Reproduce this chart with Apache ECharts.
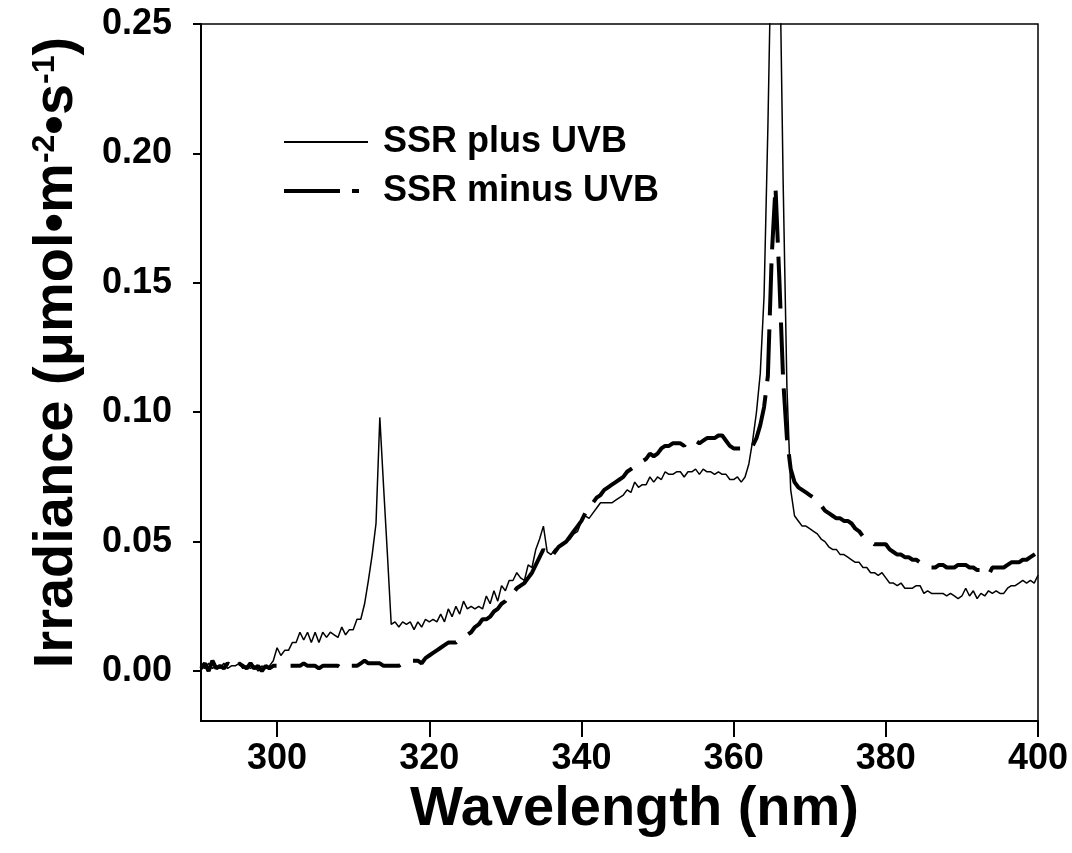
<!DOCTYPE html>
<html>
<head>
<meta charset="utf-8">
<script src="https://cdn.jsdelivr.net/npm/echarts@6/dist/echarts.min.js"></script>
<style>
  html, body { margin: 0; padding: 0; background: #fff; }
  #chart { width: 1072px; height: 853px; }
</style>
</head>
<body>
<div id="chart"></div>
<script>
// wavelength grid (nm), 0.5 nm steps, one row = 5 nm
var wavelengths = [
  290, 290.5, 291, 291.5, 292, 292.5, 293, 293.5, 294, 294.5,
  295, 295.5, 296, 296.5, 297, 297.5, 298, 298.5, 299, 299.5,
  300, 300.5, 301, 301.5, 302, 302.5, 303, 303.5, 304, 304.5,
  305, 305.5, 306, 306.5, 307, 307.5, 308, 308.5, 309, 309.5,
  310, 310.5, 311, 311.5, 312, 312.5, 313, 313.5, 314, 314.5,
  315, 315.5, 316, 316.5, 317, 317.5, 318, 318.5, 319, 319.5,
  320, 320.5, 321, 321.5, 322, 322.5, 323, 323.5, 324, 324.5,
  325, 325.5, 326, 326.5, 327, 327.5, 328, 328.5, 329, 329.5,
  330, 330.5, 331, 331.5, 332, 332.5, 333, 333.5, 334, 334.5,
  335, 335.5, 336, 336.5, 337, 337.5, 338, 338.5, 339, 339.5,
  340, 340.5, 341, 341.5, 342, 342.5, 343, 343.5, 344, 344.5,
  345, 345.5, 346, 346.5, 347, 347.5, 348, 348.5, 349, 349.5,
  350, 350.5, 351, 351.5, 352, 352.5, 353, 353.5, 354, 354.5,
  355, 355.5, 356, 356.5, 357, 357.5, 358, 358.5, 359, 359.5,
  360, 360.5, 361, 361.5, 362, 362.5, 363, 363.5, 364, 364.5,
  365, 365.5, 366, 366.5, 367, 367.5, 368, 368.5, 369, 369.5,
  370, 370.5, 371, 371.5, 372, 372.5, 373, 373.5, 374, 374.5,
  375, 375.5, 376, 376.5, 377, 377.5, 378, 378.5, 379, 379.5,
  380, 380.5, 381, 381.5, 382, 382.5, 383, 383.5, 384, 384.5,
  385, 385.5, 386, 386.5, 387, 387.5, 388, 388.5, 389, 389.5,
  390, 390.5, 391, 391.5, 392, 392.5, 393, 393.5, 394, 394.5,
  395, 395.5, 396, 396.5, 397, 397.5, 398, 398.5, 399, 399.5,
  400
];

// SSR plus UVB (thin solid line)
var plusUVB = [
  0.002, 0.001, 0.003, 0.001, 0.002, 0.001, 0.003, 0.001, 0.002, 0.002,
  0.003, 0.001, 0.002, 0.001, 0.002, 0.000, 0.002, 0.001, 0.002, 0.004,
  0.009, 0.006, 0.008, 0.008, 0.011, 0.011, 0.015, 0.012, 0.015, 0.011,
  0.015, 0.011, 0.015, 0.013, 0.015, 0.014, 0.013, 0.017, 0.014, 0.016,
  0.016, 0.020, 0.020, 0.026, 0.035, 0.045, 0.057, 0.098, 0.071, 0.045,
  0.018, 0.019, 0.017, 0.019, 0.018, 0.019, 0.016, 0.019, 0.017, 0.020,
  0.019, 0.020, 0.019, 0.022, 0.019, 0.024, 0.021, 0.025, 0.022, 0.027,
  0.024, 0.025, 0.024, 0.025, 0.024, 0.029, 0.026, 0.031, 0.027, 0.033,
  0.031, 0.035, 0.035, 0.038, 0.036, 0.035, 0.041, 0.040, 0.047, 0.051,
  0.056, 0.046, 0.045, 0.047, 0.048, 0.049, 0.050, 0.051, 0.053, 0.054,
  0.058, 0.060, 0.059, 0.061, 0.063, 0.065, 0.065, 0.065, 0.065, 0.066,
  0.067, 0.068, 0.070, 0.069, 0.073, 0.071, 0.072, 0.072, 0.075, 0.073,
  0.075, 0.074, 0.077, 0.076, 0.076, 0.077, 0.077, 0.075, 0.077, 0.077,
  0.078, 0.076, 0.078, 0.077, 0.077, 0.076, 0.077, 0.076, 0.076, 0.074,
  0.074, 0.075, 0.073, 0.075, 0.080, 0.089, 0.100, 0.115, 0.145, 0.210,
  0.290, 0.330, 0.290, 0.190, 0.110, 0.070, 0.060, 0.058, 0.056, 0.056,
  0.055, 0.054, 0.053, 0.051, 0.050, 0.048, 0.047, 0.047, 0.045, 0.045,
  0.044, 0.043, 0.042, 0.042, 0.040, 0.040, 0.038, 0.038, 0.037, 0.038,
  0.036, 0.034, 0.034, 0.033, 0.034, 0.032, 0.032, 0.032, 0.033, 0.033,
  0.030, 0.031, 0.030, 0.030, 0.030, 0.030, 0.029, 0.030, 0.029, 0.028,
  0.029, 0.032, 0.029, 0.031, 0.028, 0.030, 0.029, 0.031, 0.030, 0.031,
  0.030, 0.030, 0.032, 0.033, 0.033, 0.034, 0.035, 0.034, 0.035, 0.034,
  0.037
];

// SSR minus UVB (thick dashed line)
var minusUVB = [
  0.001, 0.003, 0.000, 0.004, 0.001, 0.002, 0.001, 0.003, 0.002, 0.001,
  0.003, 0.002, 0.001, 0.003, 0.001, 0.002, 0.000, 0.002, 0.001, 0.002,
  0.002, 0.002, 0.002, 0.002, 0.002, 0.002, 0.002, 0.003, 0.002, 0.002,
  0.002, 0.001, 0.002, 0.002, 0.002, 0.002, 0.002, 0.001, 0.001, 0.002,
  0.002, 0.002, 0.003, 0.004, 0.003, 0.003, 0.003, 0.003, 0.002, 0.002,
  0.002, 0.002, 0.002, 0.003, 0.003, 0.004, 0.004, 0.004, 0.003, 0.005,
  0.006, 0.007, 0.008, 0.009, 0.010, 0.011, 0.011, 0.011, 0.012, 0.013,
  0.014, 0.015, 0.017, 0.018, 0.020, 0.020, 0.021, 0.023, 0.024, 0.026,
  0.027, 0.029, 0.030, 0.032, 0.033, 0.034, 0.036, 0.038, 0.041, 0.044,
  0.047, 0.045, 0.044, 0.046, 0.048, 0.049, 0.050, 0.052, 0.054, 0.056,
  0.058, 0.061, 0.063, 0.065, 0.067, 0.068, 0.070, 0.071, 0.072, 0.073,
  0.074, 0.075, 0.077, 0.078, 0.079, 0.080, 0.081, 0.082, 0.084, 0.083,
  0.084, 0.086, 0.087, 0.087, 0.088, 0.088, 0.088, 0.087, 0.089, 0.089,
  0.089, 0.088, 0.089, 0.090, 0.090, 0.090, 0.091, 0.091, 0.089, 0.087,
  0.086, 0.086, 0.086, 0.086, 0.086, 0.087, 0.090, 0.095, 0.102, 0.114,
  0.160, 0.187, 0.152, 0.113, 0.090, 0.078, 0.073, 0.071, 0.070, 0.069,
  0.068, 0.067, 0.066, 0.064, 0.062, 0.061, 0.060, 0.059, 0.059, 0.058,
  0.058, 0.057, 0.055, 0.054, 0.052, 0.051, 0.050, 0.049, 0.049, 0.049,
  0.049, 0.047, 0.046, 0.045, 0.045, 0.044, 0.044, 0.043, 0.043, 0.042,
  0.042, 0.041, 0.040, 0.040, 0.041, 0.041, 0.040, 0.040, 0.040, 0.041,
  0.041, 0.041, 0.040, 0.040, 0.039, 0.039, 0.038, 0.037, 0.040, 0.040,
  0.040, 0.040, 0.041, 0.042, 0.042, 0.042, 0.043, 0.043, 0.044, 0.045,
  0.046
];

var xTicks = [300, 320, 340, 360, 380, 400];
var yTicks = [0, 0.05, 0.10, 0.15, 0.20, 0.25];
var seriesNames = ['SSR plus UVB', 'SSR minus UVB'];

function pairs(values) {
    return wavelengths.map(function(w, i) { return [w, values[i]]; });
}

var font = '"Liberation Sans", Arial, Helvetica, sans-serif';
var myChart = echarts.init(document.getElementById('chart'));

var option = {
    animation: false,
    backgroundColor: '#fff',
    grid: {
        left: 201, right: 34, top: 24, bottom: 132,
        show: true, borderColor: '#000', borderWidth: 1.5
    },
    legend: {
        orient: 'vertical',
        left: 277, top: 119,
        itemWidth: 84, itemHeight: 14, itemGap: 13,
        itemStyle: { opacity: 0 },
        data: [
            { name: seriesNames[0] },
            { name: seriesNames[1], lineStyle: { type: [56, 12, 7, 20], width: 4 } }
        ],
        formatter: function(name) { return '{g|}{t|' + name + '}'; },
        textStyle: {
            rich: {
                g: { width: 10 },
                t: { fontFamily: font, fontWeight: 'bold', fontSize: 36, color: '#000', lineHeight: 40 }
            }
        }
    },
    xAxis: {
        type: 'value',
        min: 290, max: 400,
        name: 'Wavelength (nm)',
        nameLocation: 'middle',
        nameGap: 52,
        nameTextStyle: { fontFamily: font, fontWeight: 'bold', fontSize: 56, color: '#000', padding: [0, 0, 0, 30] },
        axisLine: { onZero: false, lineStyle: { color: '#000', width: 2 } },
        axisTick: { show: true, inside: false, length: 16, customValues: xTicks, lineStyle: { color: '#000', width: 2 } },
        axisLabel: { customValues: xTicks, margin: 20, fontFamily: font, fontWeight: 'bold', fontSize: 36, color: '#000' },
        splitLine: { show: false }
    },
    yAxis: {
        type: 'value',
        min: -0.0193, max: 0.25,
        name: 'Irradiance (μmol•m{sup|-2}•s{sup|-1})',
        nameLocation: 'middle',
        nameRotate: 90,
        nameGap: 116,
        nameTextStyle: {
            fontFamily: font, fontWeight: 'bold', fontSize: 56, color: '#000',
            padding: [0, 0, 0, 40],
            rich: {
                sup: { fontFamily: font, fontWeight: 'bold', fontSize: 32, color: '#000', verticalAlign: 'top', lineHeight: 56 }
            }
        },
        axisLine: { onZero: false, lineStyle: { color: '#000', width: 2 } },
        axisTick: { show: true, inside: false, length: 8, customValues: yTicks, lineStyle: { color: '#000', width: 2 } },
        axisLabel: {
            customValues: yTicks, margin: 29,
            fontFamily: font, fontWeight: 'bold', fontSize: 36, color: '#000',
            formatter: function(v) { return v.toFixed(2); }
        },
        splitLine: { show: false }
    },
    series: [
        {
            name: seriesNames[0],
            type: 'line',
            data: pairs(plusUVB),
            showSymbol: false,
            symbol: 'none',
            clip: true,
            lineStyle: { color: '#000', width: 1.5 },
            itemStyle: { color: '#000' }
        },
        {
            name: seriesNames[1],
            type: 'line',
            data: pairs(minusUVB),
            showSymbol: false,
            symbol: 'none',
            clip: true,
            lineStyle: { color: '#000', width: 4, type: [52, 14] },
            itemStyle: { color: '#000' }
        }
    ]
};

myChart.setOption(option);
</script>
</body>
</html>
